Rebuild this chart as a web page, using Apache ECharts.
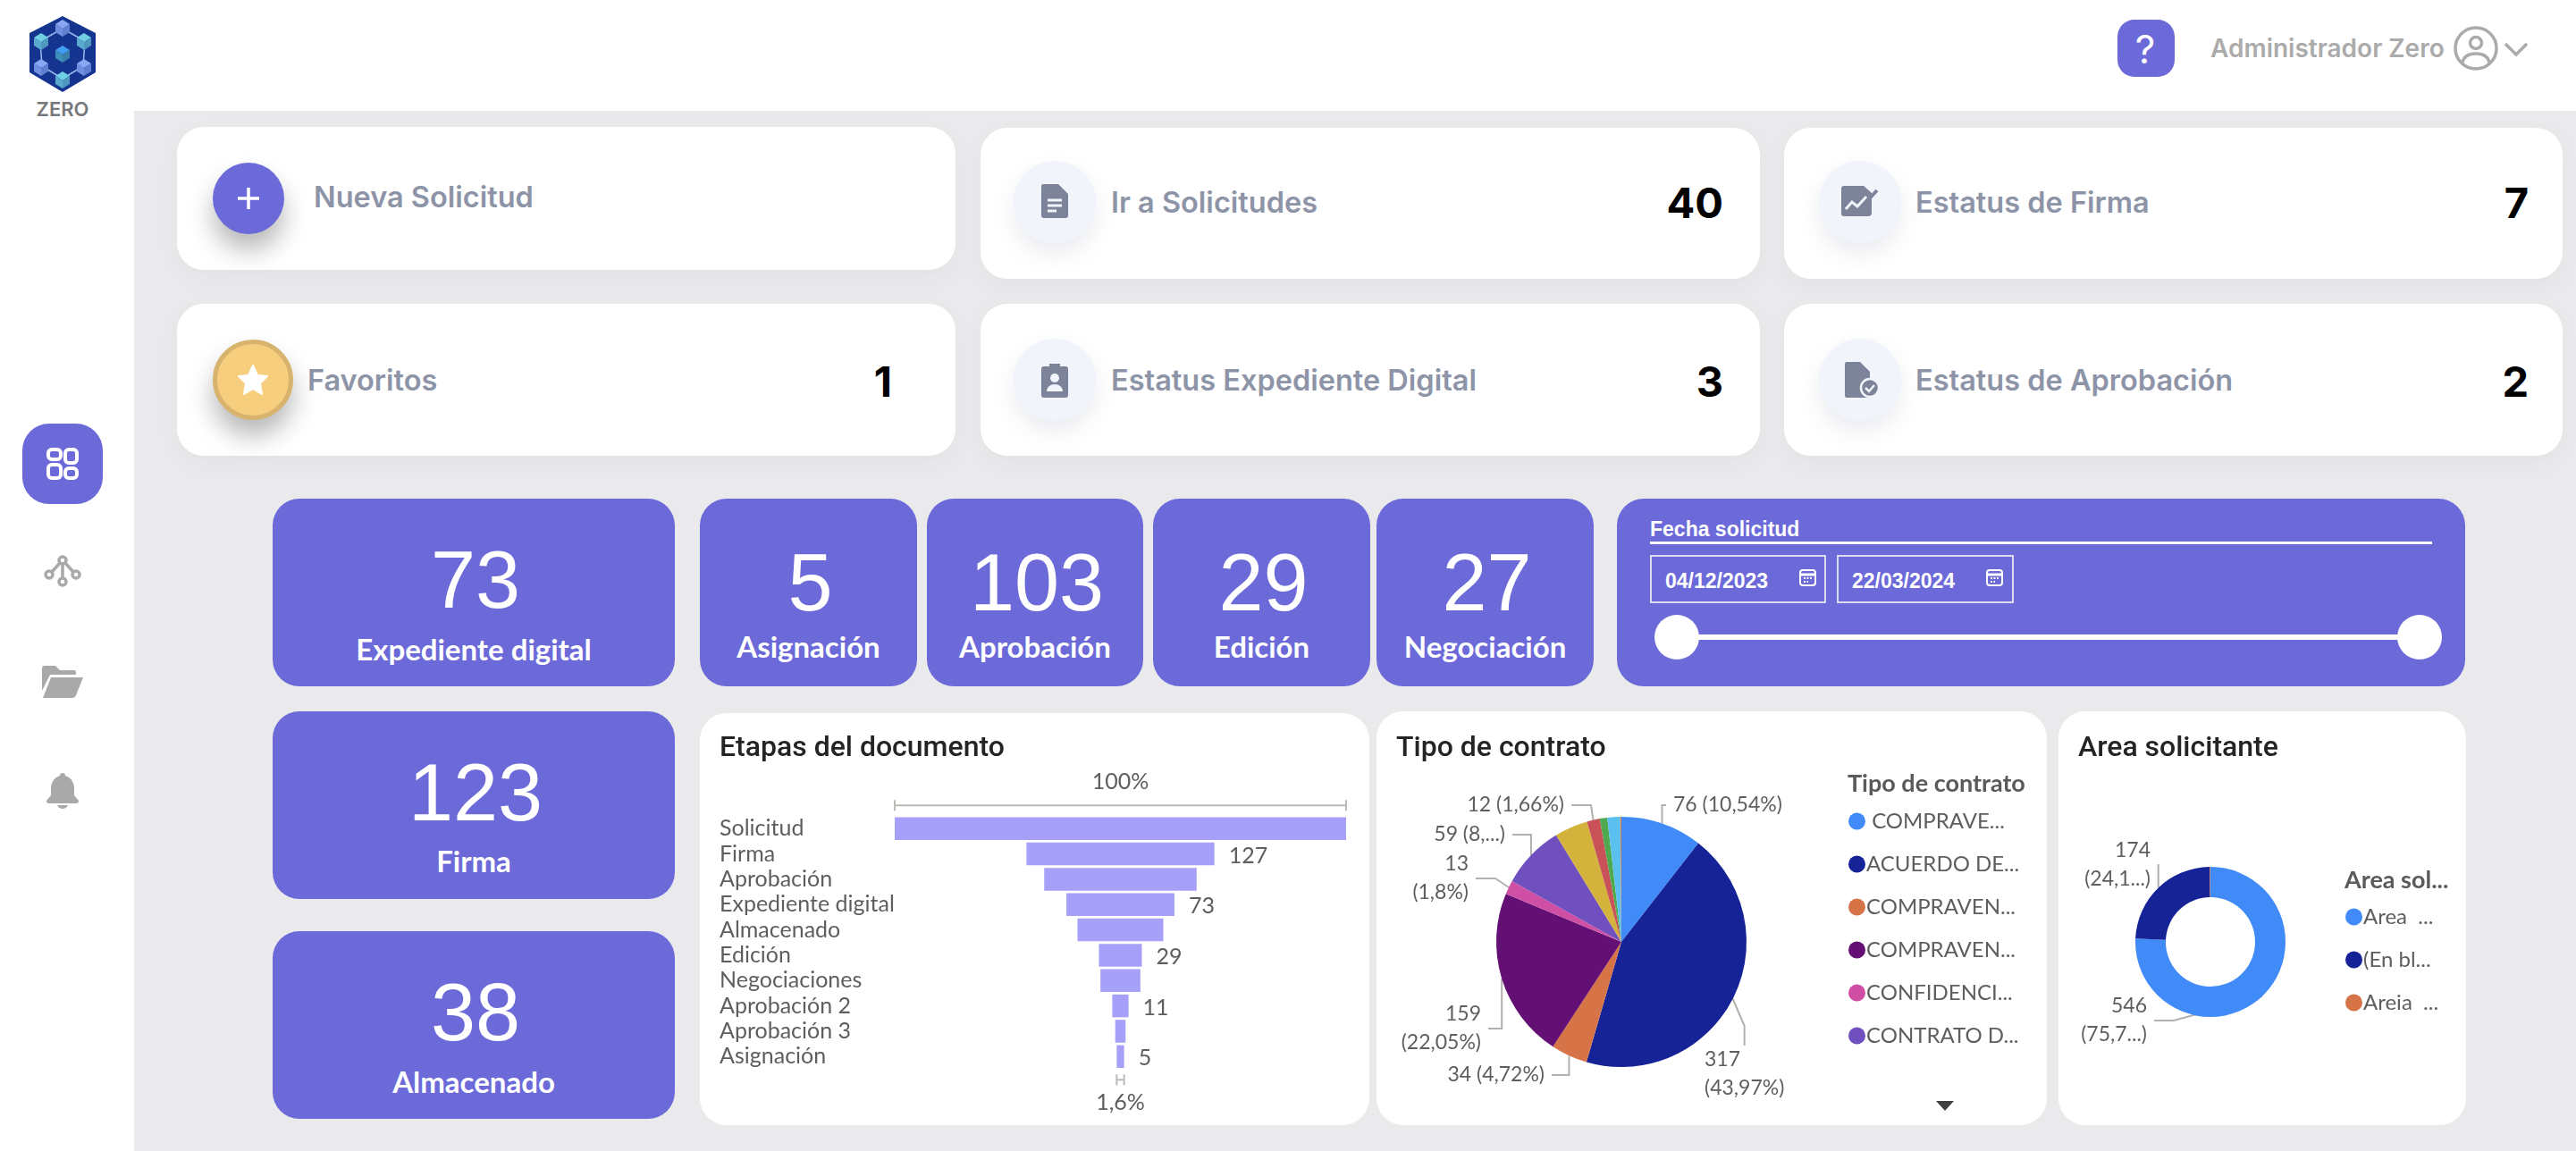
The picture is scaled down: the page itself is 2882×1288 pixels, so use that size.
<!DOCTYPE html>
<html>
<head>
<meta charset="utf-8">
<title>Zero</title>
<script src="https://cdn.jsdelivr.net/npm/echarts@6/dist/echarts.min.js"></script>
<style>
html, body { margin: 0; padding: 0; background: #fff; width: 2882px; height: 1288px; overflow: hidden; }
body { position: relative; font-family: Lato, sans-serif; }
.box { position: absolute; box-sizing: border-box; }
.txt { position: absolute; white-space: nowrap; transform: translateY(-50%); line-height: 1; }
.ctr { transform: translate(-50%, -50%); }
.rgt { transform: translate(-100%, -50%); }
.card { background: #fff; border-radius: 30px; }
.kpi { background: #6c69d9; border-radius: 30px; }
.cardLabel { font-family: Inter, sans-serif; font-weight: 600; font-size: 32.5px; color: #8d94a7; }
.cardNum { font-family: Inter, sans-serif; font-weight: 700; font-size: 47px; color: #000; }
.kpiNum { font-family: "Liberation Sans", sans-serif; font-size: 90px; color: #fff; }
.kpiLabel { font-family: Lato, sans-serif; font-weight: 700; font-size: 33px; color: #fff; }
.round { position: absolute; box-sizing: border-box; border-radius: 50%; }
.icoBack { background: #f1f4fb; box-shadow: 0 12px 26px rgba(60,70,110,.10); }
.dateTxt { font-family: "Liberation Sans", sans-serif; font-weight: 700; font-size: 23px; color: #fff; }
svg { position: absolute; overflow: visible; }
</style>
</head>
<body>
<script>
// tarjetas de arriba
var aCardNames = ['Nueva Solicitud', 'Ir a Solicitudes', 'Estatus de Firma', 'Favoritos', 'Estatus Expediente Digital', 'Estatus de Aprobación'];
var aCardCounts = ['', '40', '7', '1', '3', '2'];
// indicadores
var aKpiNames = ['Expediente digital', 'Asignación', 'Aprobación', 'Edición', 'Negociación', 'Firma', 'Almacenado'];
var aKpiValues = [73, 5, 103, 29, 27, 123, 38];
var aDates = ['04/12/2023', '22/03/2024'];
// embudo
var aStages = ['Solicitud', 'Firma', 'Aprobación', 'Expediente digital', 'Almacenado', 'Edición', 'Negociaciones', 'Aprobación 2', 'Aprobación 3', 'Asignación'];
var aStageValues = [305, 127, 103, 73, 58, 29, 27, 11, 7, 5];
var aStageShown = [false, true, false, true, false, true, false, true, false, true];
var aStagePercents = ['100%', '1,6%'];
// pastel tipo de contrato
var aContractNames = [' COMPRAVE...', 'ACUERDO DE...', 'COMPRAVEN... ', 'COMPRAVEN...', 'CONFIDENCI...', 'CONTRATO D...', 'Tipo 7', 'Tipo 8', 'Tipo 9', 'Tipo 10', 'Tipo 11'];
var aContractValues = [76, 317, 34, 159, 13, 59, 31, 12, 7, 12, 1];
var aContractLabels = ['76 (10,54%)', '317\n(43,97%)', '34 (4,72%)', '159\n(22,05%)', '13\n(1,8%)', '59 (8,...)', '', '12 (1,66%)', '', '', ''];
var aContractColors = ['#408bf8', '#152397', '#d67347', '#630f74', '#cf4fa5', '#7050be', '#d3b33c', '#c95258', '#4faa4f', '#5bc0f0', '#e08040'];
// dona area solicitante
var aAreaNames = ['Area  ...', '(En bl...', 'Areia  ...'];
var aAreaValues = [546, 174, 1];
var aAreaLabels = ['546\n(75,7...)', '174\n(24,1...)', ''];
var aAreaColors = ['#408bf8', '#152397', '#d67347'];

var sSegoe = 'Lato, sans-serif';
var sTitleFont = 'Roboto, sans-serif';

function Put(sClass, x, y, w, h, sHtml) {
    var oDiv = document.createElement('div');
    oDiv.className = sClass;
    oDiv.style.left = x + 'px';
    oDiv.style.top = y + 'px';
    if (w) oDiv.style.width = w + 'px';
    if (h) oDiv.style.height = h + 'px';
    if (sHtml) oDiv.innerHTML = sHtml;
    document.body.appendChild(oDiv);
    return oDiv;
}

function Icon(x, y, w, h, sInner, sBox) {
    var sSvg = '<svg xmlns="http://www.w3.org/2000/svg" style="left:' + x + 'px;top:' + y + 'px" width="' + w + '" height="' + h + '" viewBox="' + (sBox || ('0 0 ' + w + ' ' + h)) + '">' + sInner + '</svg>';
    document.body.insertAdjacentHTML('beforeend', sSvg);
}

// cubito del logo: tres caras
function Cube(x, y, sTop, sLeft, sRight) {
    return '<polygon points="' + x + ',' + (y - 9) + ' ' + (x + 8) + ',' + (y - 4) + ' ' + x + ',' + (y + 1) + ' ' + (x - 8) + ',' + (y - 4) + '" fill="' + sTop + '"/>' +
        '<polygon points="' + (x - 8) + ',' + (y - 4) + ' ' + x + ',' + (y + 1) + ' ' + x + ',' + (y + 10) + ' ' + (x - 8) + ',' + (y + 5) + '" fill="' + sLeft + '"/>' +
        '<polygon points="' + (x + 8) + ',' + (y - 4) + ' ' + x + ',' + (y + 1) + ' ' + x + ',' + (y + 10) + ' ' + (x + 8) + ',' + (y + 5) + '" fill="' + sRight + '"/>';
}

function DrawChrome() {
    // fondo gris
    var oBack = Put('box', 150, 124, 2732, 1164);
    oBack.style.background = '#eaeaec';

    // logo
    Icon(33, 18, 74, 85, '<polygon points="37,0 74,19 74,63 37,85 0,63 0,19" fill="#14348f"/>' +
        '<polyline points="37,14 62,28 60,56 37,70 14,56 12,28 37,14" fill="none" stroke="#9ab8ee" stroke-width="1.5"/>' +
        Cube(37, 13, '#8aa6f2', '#6f8fe0', '#5f7fd0') +
        Cube(13, 28, '#6fd0e4', '#5aa9cf', '#4f98bf') +
        Cube(61, 28, '#6fd0e4', '#5aa9cf', '#4f98bf') +
        Cube(37, 42, '#3f9df2', '#3f8fb8', '#3a7fa8') +
        Cube(13, 57, '#8aa6f2', '#6f8fe0', '#5f7fd0') +
        Cube(61, 57, '#8aa6f2', '#6f8fe0', '#5f7fd0') +
        Cube(37, 71, '#6fd0e4', '#5aa9cf', '#4f98bf'));
    var oZero = Put('txt ctr', 70, 122, 0, 0, 'ZERO');
    oZero.style.cssText += 'font:600 22px Inter,sans-serif;color:#77787b;width:auto;height:auto';

    // barra lateral
    var oNav = Put('box', 25, 474, 90, 90);
    oNav.style.cssText += 'background:#6c69d9;border-radius:30px';
    Icon(52, 501, 36, 36, '<g fill="none" stroke="#fff" stroke-width="4">' +
        '<rect x="2" y="2" width="14" height="11" rx="4"/><rect x="21" y="2" width="13" height="15" rx="4"/>' +
        '<rect x="2" y="19" width="14" height="15" rx="4"/><rect x="21" y="23" width="13" height="11" rx="4"/></g>');
    Icon(50, 621, 40, 40, '<g fill="none" stroke="#a9a9a9" stroke-width="3.5"><circle cx="20" cy="6" r="4"/><circle cx="5" cy="22" r="4"/><circle cx="35" cy="22" r="4"/><circle cx="20" cy="30" r="4"/>' +
        '<path d="M20 10V26M17 9L8 19M23 9L32 19"/></g>');
    Icon(47, 745, 46, 36, '<path fill="#a9a9a9" d="M0 3Q0 0 3 0H15L20 5H36Q38 5 38 8V10H9L0 28Z"/><path fill="#a9a9a9" d="M10 13H46L38 33Q37 36 34 36H1Z"/>');
    Icon(52, 865, 36, 40, '<path fill="#a9a9a9" d="M18 0Q21 0 21 3Q31 6 31 18V25L36 31Q36 34 33 34H3Q0 34 0 31L5 25V18Q5 6 15 3Q15 0 18 0ZM12 36H24Q22 40 18 40Q14 40 12 36Z"/>');

    // cabecera
    var oHelp = Put('box', 2369, 22, 64, 64);
    oHelp.style.cssText += 'background:#6c69d9;border-radius:19px';
    var oMark = Put('txt ctr', 2400, 55, 0, 0, '?');
    oMark.style.cssText += 'font:400 44px Inter,sans-serif;color:#fff;width:auto;height:auto';
    var oUser = Put('txt', 2473, 54, 0, 0, 'Administrador Zero');
    oUser.style.cssText += 'font:600 28px Inter,sans-serif;color:#ababab;width:auto;height:auto';
    Icon(2745, 29, 50, 50, '<g fill="none" stroke="#ababab" stroke-width="3.5"><circle cx="25" cy="25" r="23"/><circle cx="25" cy="19" r="6.5"/><path d="M10 41Q12 31 25 31Q38 31 40 41"/></g>');
    Icon(2801, 46, 28, 18, '<polyline points="2,3 14,15 26,3" fill="none" stroke="#ababab" stroke-width="3.5"/>');

    // tarjetas
    var aCardBoxes = [[198, 142, 871, 160], [1097, 143, 872, 169], [1996, 143, 871, 169], [198, 340, 871, 170], [1097, 340, 872, 170], [1996, 340, 871, 170]];
    var aCardText = [[351, 221], [1243, 227], [2143, 227], [344, 426], [1243, 426], [2143, 426]];
    var aCardNum = [null, [1928, 226], [2829, 226], [998, 426], [1928, 426], [2829, 426]];
    for (var i = 0; i < aCardNames.length; i++) {
        var oCard = Put('box card', aCardBoxes[i][0], aCardBoxes[i][1], aCardBoxes[i][2], aCardBoxes[i][3]);
        oCard.style.boxShadow = '0 8px 24px rgba(80,80,100,.04)';
        Put('txt cardLabel', aCardText[i][0], aCardText[i][1], 0, 0, aCardNames[i]).style.width = 'auto';
        if (aCardNum[i]) Put('txt rgt cardNum', aCardNum[i][0], aCardNum[i][1], 0, 0, aCardCounts[i]).style.height = 'auto';
    }

    var oPlus = Put('round', 238, 182, 80, 80);
    oPlus.style.cssText += 'background:#6c69d9;box-shadow:0 18px 28px rgba(0,0,0,.28)';
    Icon(265, 209, 26, 26, '<path d="M13 1V25M1 13H25" stroke="#fff" stroke-width="3.5" fill="none"/>');
    var oStar = Put('round', 238, 380, 90, 90);
    oStar.style.cssText += 'background:#f6ce7e;border:5px solid #d8b36d;box-shadow:0 18px 28px rgba(0,0,0,.28)';
    Icon(266, 408, 34, 34, '<polygon points="17,1 22,12 33,13 25,21 27,33 17,27 7,33 9,21 1,13 12,12" fill="#fff" stroke="#fff" stroke-width="2" stroke-linejoin="round"/>');

    var aRound = [[1180, 226], [2081, 226], [1180, 425], [2081, 425]];
    for (var j = 0; j < aRound.length; j++) {
        Put('round icoBack', aRound[j][0] - 46, aRound[j][1] - 46, 92, 92);
    }
    var sGrey = '#7d8398';
    Icon(1165, 206, 30, 38, '<path fill="' + sGrey + '" d="M2 0H19L30 11V35Q30 38 27 38H3Q0 38 0 35V3Q0 0 2 0Z"/><path stroke="#f1f4fb" stroke-width="3" d="M7 18H23M7 24H23M7 30H17"/>');
    Icon(2060, 208, 42, 36, '<path fill="' + sGrey + '" d="M0 3Q0 0 3 0H25L34 8V30Q34 34 30 34H3Q0 34 0 31Z"/><path stroke="#f1f4fb" stroke-width="3" fill="none" d="M5 26L12 18L18 23L28 12"/><path stroke="' + sGrey + '" stroke-width="4" d="M26 20L40 5"/>');
    Icon(1165, 405, 30, 40, '<path fill="' + sGrey + '" d="M3 5H9V2H21V5H27Q30 5 30 8V37Q30 40 27 40H3Q0 40 0 37V8Q0 5 3 5Z"/><circle cx="15" cy="18" r="5" fill="#f1f4fb"/><path fill="#f1f4fb" d="M6 33Q7 25 15 25Q23 25 24 33Z"/>');
    Icon(2064, 405, 38, 40, '<path fill="' + sGrey + '" d="M2 0H17L28 11V37Q28 40 25 40H2Q0 40 0 37V3Q0 0 2 0Z"/><circle cx="28" cy="29" r="10" fill="' + sGrey + '" stroke="#f1f4fb" stroke-width="2.5"/><path d="M23 29L27 33L33 26" stroke="#f1f4fb" stroke-width="2.5" fill="none"/>');

    // indicadores
    var aKpiBoxes = [[305, 558, 450, 210], [783, 558, 243, 210], [1037, 558, 242, 210], [1290, 558, 243, 210], [1540, 558, 243, 210], [305, 796, 450, 210], [305, 1042, 450, 210]];
    var aKpiY = [[649, 726], [652, 723], [652, 723], [652, 723], [652, 723], [887, 963], [1133, 1210]];
    for (var k = 0; k < aKpiNames.length; k++) {
        var b = aKpiBoxes[k];
        var fMid = b[0] + b[2] / 2;
        Put('box kpi', b[0], b[1], b[2], b[3]);
        Put('txt ctr kpiNum', fMid + 2, aKpiY[k][0], 0, 0, String(aKpiValues[k])).style.height = 'auto';
        Put('txt ctr kpiLabel', fMid, aKpiY[k][1], 0, 0, aKpiNames[k]).style.height = 'auto';
    }

    // filtro de fecha
    Put('box kpi', 1809, 558, 949, 210);
    Put('txt dateTxt', 1846, 592, 0, 0, 'Fecha solicitud').style.height = 'auto';
    var oRule = Put('box', 1846, 606, 875, 3);
    oRule.style.background = '#fff';
    var aDateBox = [[1846, 197, 1863, 2013], [2055, 198, 2072, 2222]];
    for (var d = 0; d < aDates.length; d++) {
        var oDate = Put('box', aDateBox[d][0], 621, aDateBox[d][1], 54);
        oDate.style.border = '2px solid #dcdcf0';
        Put('txt dateTxt', aDateBox[d][2], 650, 0, 0, aDates[d]).style.height = 'auto';
        Icon(aDateBox[d][3], 637, 19, 19, '<rect x="1" y="1" width="17" height="17" rx="3" fill="none" stroke="#fff" stroke-width="2"/><path d="M1 6H18" stroke="#fff" stroke-width="3"/><path d="M5 10H14M5 14H10" stroke="#fff" stroke-width="2" stroke-dasharray="2 1.5"/>');
    }
    var oTrack = Put('box', 1876, 710, 831, 6);
    oTrack.style.background = '#fff';
    Put('round', 1851, 688, 50, 50).style.background = '#fff';
    Put('round', 2682, 688, 50, 50).style.background = '#fff';

    // paneles
    Put('box card', 783, 798, 749, 461);
    Put('box card', 1540, 796, 750, 463);
    Put('box card', 2303, 796, 456, 463);
}

function GetFunnelOption() {
    return {
        animation: false,
        title: {
            text: 'Etapas del documento', left: 17, top: 19,
            textStyle: { fontFamily: sTitleFont, fontSize: 32, fontWeight: 500, color: '#252423' }
        },
        grid: { left: 218, top: 115, width: 505, height: 283.5 },
        xAxis: { type: 'value', min: -aStageValues[0] / 2, max: aStageValues[0] / 2, show: false },
        yAxis: {
            type: 'category', inverse: true, data: aStages,
            axisLine: { show: false }, axisTick: { show: false },
            axisLabel: { interval: 0, align: 'left', margin: 196, fontFamily: sSegoe, fontSize: 25, color: '#605e5c' }
        },
        series: [
            {
                // barras centradas sobre el cero del eje
                type: 'custom',
                clip: false,
                encode: { x: 0, y: 1 },
                data: aStageValues.map(function (v, i) { return [v, i]; }),
                renderItem: function (params, api) {
                    var fValue = api.value(0);
                    var iStage = api.value(1);
                    var pLeft = api.coord([-fValue / 2, iStage]);
                    var pRight = api.coord([fValue / 2, iStage]);
                    var aChildren = [{
                        type: 'rect',
                        shape: { x: pLeft[0], y: pLeft[1] - 12.75, width: pRight[0] - pLeft[0], height: 25.5 },
                        style: { fill: '#a6a0f8' }
                    }];
                    if (aStageShown[iStage]) {
                        aChildren.push({
                            type: 'text',
                            style: {
                                text: String(fValue), x: pRight[0] + 16, y: pLeft[1] + 2,
                                verticalAlign: 'middle', align: 'left',
                                font: '25px ' + sSegoe, fill: '#605e5c'
                            }
                        });
                    }
                    return { type: 'group', children: aChildren };
                }
            },
            {
                // corchetes de porcentaje arriba y abajo
                type: 'custom',
                clip: false,
                encode: { x: 0, y: 1 },
                data: [[aStageValues[0], 0, -1], [aStageValues[9], 9, 1]],
                renderItem: function (params, api) {
                    var fValue = api.value(0);
                    var iDir = api.value(2);
                    var pLeft = api.coord([-fValue / 2, api.value(1)]);
                    var pRight = api.coord([fValue / 2, api.value(1)]);
                    var fLine = pLeft[1] + iDir * 26;
                    var oLine = { stroke: '#bdb9b4', lineWidth: 2 };
                    return {
                        type: 'group',
                        children: [
                            { type: 'line', shape: { x1: pLeft[0], y1: fLine, x2: pRight[0], y2: fLine }, style: oLine },
                            { type: 'line', shape: { x1: pLeft[0], y1: fLine - 6, x2: pLeft[0], y2: fLine + 6 }, style: oLine },
                            { type: 'line', shape: { x1: pRight[0], y1: fLine - 6, x2: pRight[0], y2: fLine + 6 }, style: oLine },
                            {
                                type: 'text',
                                style: {
                                    text: aStagePercents[params.dataIndex],
                                    x: (pLeft[0] + pRight[0]) / 2, y: fLine + iDir * 26,
                                    align: 'center', verticalAlign: 'middle',
                                    font: '25px ' + sSegoe, fill: '#605e5c'
                                }
                            }
                        ]
                    };
                }
            }
        ]
    };
}

// posiciones de las etiquetas dentro de cada panel
var aContractLabelPos = {
    0: { x: 332, y: 105, align: 'left' },
    1: { x: 367, y: 406, align: 'left' },
    2: { x: 188, y: 407, align: 'right' },
    3: { x: 117, y: 355, align: 'right' },
    4: { x: 103, y: 187, align: 'right' },
    5: { x: 144, y: 138, align: 'right' },
    7: { x: 210, y: 105, align: 'right' }
};
var aAreaLabelPos = {
    0: { x: 99, y: 346, align: 'right' },
    1: { x: 103, y: 172, align: 'right' }
};

function PieLabel(aTexts) {
    return function (v) { return aTexts[v.dataIndex]; };
}

function GetPieOption(aNames, aValues, aColors, aLabels, aPos, aRadius, fCenterX, sHead, oLegend, oHeadPos) {
    var aData = aValues.map(function (v, i) {
        var bShow = aLabels[i] !== '';
        return {
            name: aNames[i], value: v,
            label: { show: bShow },
            labelLine: { show: bShow },
            itemStyle: { color: aColors[i] }
        };
    });
    return {
        animation: false,
        title: [
            { text: sHead[0], left: sHead[2], top: 21, textStyle: { fontFamily: sTitleFont, fontSize: 32, fontWeight: 500, color: '#252423' } },
            { text: sHead[1], left: oHeadPos.x, top: oHeadPos.y, textStyle: { fontFamily: sSegoe, fontSize: 27, fontWeight: 700, color: '#5a5a5a' } }
        ],
        legend: oLegend,
        series: [{
            type: 'pie',
            radius: aRadius,
            center: [fCenterX, 258],
            startAngle: 90,
            clockwise: true,
            data: aData,
            label: {
                formatter: PieLabel(aLabels),
                fontFamily: sSegoe, fontSize: 23, lineHeight: 32, color: '#605e5c',
                padding: [0, 8, 0, 8],
                overflow: 'none'
            },
            labelLine: { length: 10, length2: 22, lineStyle: { color: '#b3b0ad', width: 2 } },
            labelLayout: function (params) {
                var oPos = aPos[params.dataIndex];
                if (!oPos) return {};
                // el padding empuja el texto, se compensa aqui
                var fX = oPos.align === 'left' ? oPos.x - 8 : oPos.x + 8;
                return { x: fX, y: oPos.y, align: oPos.align, verticalAlign: 'middle' };
            }
        }]
    };
}

function Legend(aData, fLeft, fTop, fGap) {
    return {
        orient: 'vertical', left: fLeft, top: fTop,
        data: aData, icon: 'circle', itemWidth: 19, itemHeight: 19, itemGap: fGap,
        selectedMode: false,
        textStyle: { fontFamily: sSegoe, fontSize: 24, color: '#605e5c', padding: [0, 0, 0, -4] }
    };
}

function DrawChart(x, y, w, h, jOption) {
    var oDom = Put('box', x, y, w, h);
    var oChart = echarts.init(oDom);
    oChart.setOption(jOption);
    return oChart;
}

DrawChrome();
DrawChart(783, 798, 749, 461, GetFunnelOption());

var jContract = GetPieOption(aContractNames, aContractValues, aContractColors, aContractLabels, aContractLabelPos,
    [0, 140], 274, ['Tipo de contrato', 'Tipo de contrato', 17], Legend(aContractNames.slice(0, 6), 523, 106, 24), { x: 522, y: 63 });
jContract.graphic = [{ type: 'polygon', shape: { points: [[626, 436], [646, 436], [636, 447]] }, style: { fill: '#404040' } }];
DrawChart(1540, 796, 750, 463, jContract);

DrawChart(2303, 796, 456, 463, GetPieOption(aAreaNames, aAreaValues, aAreaColors, aAreaLabels, aAreaLabelPos,
    [50, 84], 170, ['Area solicitante', 'Area sol...', 17], Legend(aAreaNames, 316, 213, 24), { x: 315, y: 171 }));
</script>
</body>
</html>
